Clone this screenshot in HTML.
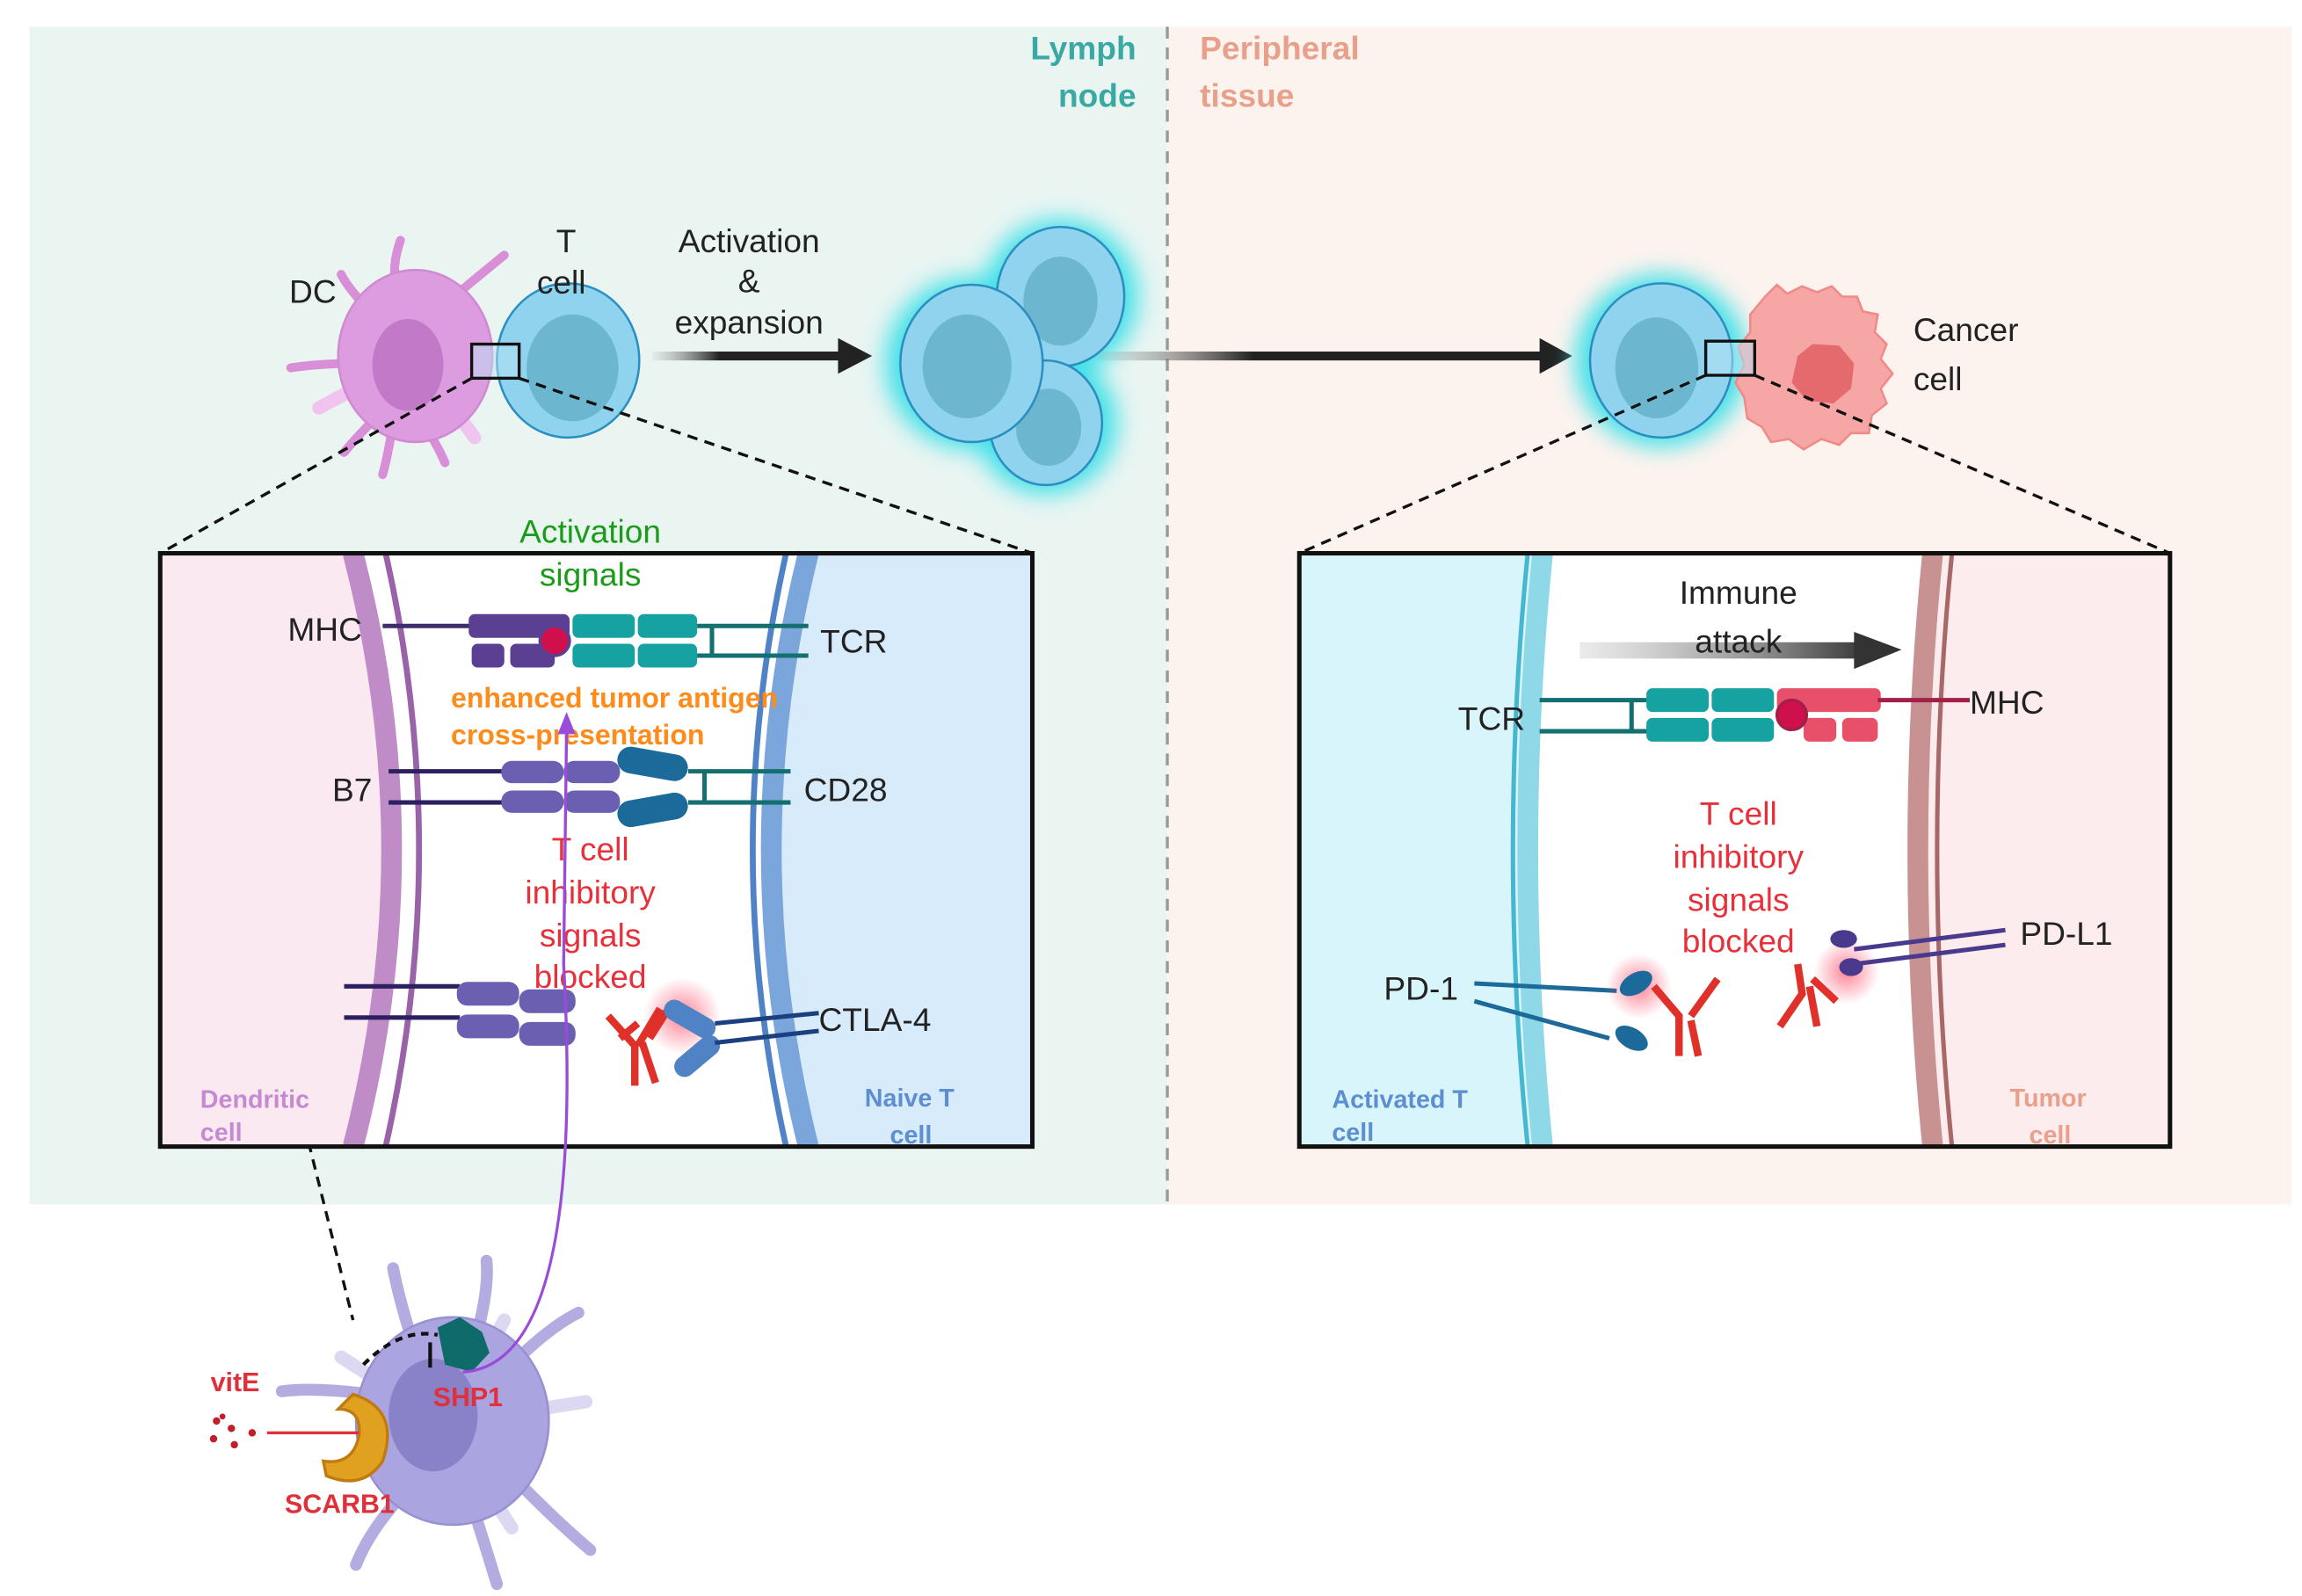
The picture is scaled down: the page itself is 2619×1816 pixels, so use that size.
<!DOCTYPE html>
<html><head><meta charset="utf-8"><style>
html,body{margin:0;padding:0;background:#fff}
svg{display:block}
text{font-family:"Liberation Sans",sans-serif}
</style></head><body>
<svg width="2619" height="1816" viewBox="0 0 1552 1076" preserveAspectRatio="none" xmlns="http://www.w3.org/2000/svg">
<defs>
<filter id="glow" x="-50%" y="-50%" width="200%" height="200%"><feGaussianBlur stdDeviation="8"/></filter>
<linearGradient id="ag" x1="0" x2="1"><stop offset="0" stop-color="#999" stop-opacity="0.1"/><stop offset="0.35" stop-color="#222"/><stop offset="1" stop-color="#222"/></linearGradient>
<linearGradient id="ag2" x1="0" x2="1"><stop offset="0" stop-color="#bbb" stop-opacity="0.3"/><stop offset="1" stop-color="#333"/></linearGradient>
<radialGradient id="rg" cx="0.5" cy="0.5" r="0.5"><stop offset="0" stop-color="#ff3050" stop-opacity="0.6"/><stop offset="1" stop-color="#ff3050" stop-opacity="0"/></radialGradient>
</defs>
<rect x="20" y="18" width="767" height="794" fill="#eaf5f2"/>
<rect x="787" y="18" width="758" height="794" fill="#fdf3ee"/>
<line x1="787" y1="18" x2="787" y2="812" stroke="#999" stroke-width="2" stroke-dasharray="8,6"/>
<text x="766" y="40" font-size="22" font-weight="bold" fill="#3aa9a4" text-anchor="end">Lymph</text>
<text x="766" y="72" font-size="22" font-weight="bold" fill="#3aa9a4" text-anchor="end">node</text>
<text x="809" y="40" font-size="22" font-weight="bold" fill="#e8a08a">Peripheral</text>
<text x="809" y="72" font-size="22" font-weight="bold" fill="#e8a08a">tissue</text>

<!-- DC + T cell -->
<g stroke="#f0c4ee" stroke-width="9" stroke-linecap="round">
<line x1="280" y1="240" x2="300" y2="195"/><line x1="280" y1="240" x2="215" y2="275"/><line x1="280" y1="240" x2="320" y2="295"/>
</g>
<g stroke="#d98fd8" stroke-width="6" stroke-linecap="round" fill="none">
<path d="M270,200 Q262,185 270,162"/><path d="M250,210 Q235,195 230,185"/><path d="M300,205 Q330,180 340,172"/><path d="M240,245 Q215,245 196,248"/><path d="M255,280 Q240,295 232,305"/><path d="M285,285 Q295,300 300,312"/><path d="M265,285 Q262,305 258,320"/>
</g>
<ellipse cx="280" cy="240" rx="52" ry="58" fill="#dd9ce0" stroke="#d08ad2" stroke-width="1.5"/>
<ellipse cx="275" cy="246" rx="24" ry="31" fill="#c27ac8"/>
<ellipse cx="383" cy="243" rx="48" ry="52" fill="#8fd3ef" stroke="#2a8fc0" stroke-width="1.5"/>
<ellipse cx="386" cy="248" rx="31" ry="36" fill="#6cb7cf"/>
<rect x="318" y="232" width="32" height="23" fill="#b7e3f5" fill-opacity="0.5" stroke="#111" stroke-width="2"/>
<text x="195" y="204" font-size="22" fill="#222">DC</text>
<text x="375" y="170" font-size="22" fill="#222">T</text>
<text x="362" y="198" font-size="22" fill="#222">cell</text>
<text x="505" y="170" font-size="22" fill="#222" text-anchor="middle">Activation</text>
<text x="505" y="197" font-size="22" fill="#222" text-anchor="middle">&amp;</text>
<text x="505" y="225" font-size="22" fill="#222" text-anchor="middle">expansion</text>
<rect x="440" y="237" width="128" height="6" fill="url(#ag)"/>
<polygon points="565,228 588,240 565,252" fill="#222"/>

<!-- expanded cells -->
<g filter="url(#glow)" fill="#3fe0e8"><circle cx="655" cy="245" r="58"/><circle cx="715" cy="200" r="52"/><circle cx="705" cy="285" r="48"/></g>
<ellipse cx="715" cy="200" rx="43" ry="47" fill="#8fd3ef" stroke="#2a8fc0" stroke-width="1.5"/><ellipse cx="715" cy="203" rx="25" ry="30" fill="#6cb7cf"/>
<ellipse cx="705" cy="285" rx="38" ry="42" fill="#8fd3ef" stroke="#2a8fc0" stroke-width="1.5"/><ellipse cx="707" cy="288" rx="22" ry="26" fill="#6cb7cf"/>
<ellipse cx="655" cy="245" rx="48" ry="53" fill="#8fd3ef" stroke="#2a8fc0" stroke-width="1.5"/><ellipse cx="652" cy="247" rx="30" ry="35" fill="#6cb7cf"/>
<rect x="740" y="237" width="300" height="6" fill="url(#ag)"/>
<polygon points="1038,228 1060,240 1038,252" fill="#222"/>

<!-- T + cancer -->
<circle cx="1120" cy="243" r="58" fill="#3fe0e8" filter="url(#glow)"/>
<path d="M1190,200 L1198,192 L1205,198 L1215,193 L1225,197 L1235,193 L1242,200 L1252,200 L1256,210 L1266,212 L1264,224 L1272,232 L1268,242 L1276,252 L1268,262 L1272,272 L1262,280 L1260,292 L1248,292 L1240,300 L1228,296 L1216,303 L1206,296 L1194,298 L1188,288 L1178,282 L1176,268 L1170,258 L1176,246 L1172,234 L1180,224 L1180,212Z" fill="#f6a6a4" stroke="#f08a88" stroke-width="1.5"/>
<path d="M1212,240 L1222,232 L1240,233 L1250,245 L1248,262 L1236,272 L1218,270 L1208,258Z" fill="#e46a6e"/>
<ellipse cx="1120" cy="243" rx="48" ry="52" fill="#8fd3ef" stroke="#2a8fc0" stroke-width="1.5"/>
<ellipse cx="1117" cy="248" rx="28" ry="34" fill="#6cb7cf"/>
<rect x="1150" y="230" width="33" height="23" fill="#b7e3f5" fill-opacity="0.5" stroke="#111" stroke-width="2"/>
<text x="1290" y="230" font-size="22" fill="#222">Cancer</text>
<text x="1290" y="263" font-size="22" fill="#222">cell</text>

<!-- dashed zoom lines -->
<g stroke="#111" stroke-width="2" stroke-dasharray="7,5">
<line x1="318" y1="255" x2="108" y2="373"/><line x1="350" y1="255" x2="696" y2="373"/>
<line x1="1150" y1="253" x2="876" y2="373"/><line x1="1183" y1="253" x2="1463" y2="373"/>
<line x1="208" y1="770" x2="238" y2="890"/>
</g>

<!-- LEFT BOX -->
<rect x="108" y="373" width="588" height="400" fill="#fff"/>
<path d="M108,373 L245,373 Q280,573 245,773 L108,773Z" fill="#fbe9f2"/>
<path d="M238,373 Q290,573 238,773" fill="none" stroke="#c08cc8" stroke-width="14"/>
<path d="M260,373 Q305,573 260,773" fill="none" stroke="#9a62a8" stroke-width="4"/>
<path d="M696,373 L545,373 Q495,573 545,773 L696,773Z" fill="#d7ebfb"/>
<path d="M545,373 Q495,573 545,773" fill="none" stroke="#7aa6db" stroke-width="14"/>
<path d="M530,373 Q485,573 530,773" fill="none" stroke="#4f83c6" stroke-width="4"/>
<rect x="108" y="373" width="588" height="400" fill="none" stroke="#111" stroke-width="3"/>
<text x="398" y="366" font-size="22" fill="#1a9c1a" text-anchor="middle">Activation</text>
<text x="398" y="395" font-size="22" fill="#1a9c1a" text-anchor="middle">signals</text>
<text x="194" y="432" font-size="22" fill="#222">MHC</text>
<line x1="258" y1="422" x2="318" y2="422" stroke="#3d2c6e" stroke-width="3"/>
<rect x="316" y="414" width="68" height="16" rx="4" fill="#5a3f93"/>
<rect x="318" y="434" width="22" height="16" rx="4" fill="#5a3f93"/><rect x="344" y="434" width="30" height="16" rx="4" fill="#5a3f93"/>
<circle cx="374" cy="432" r="10" fill="#d0104c" stroke="#5a3f93" stroke-width="2"/>
<rect x="386" y="414" width="42" height="16" rx="4" fill="#17a2a2"/><rect x="430" y="414" width="40" height="16" rx="4" fill="#17a2a2"/>
<rect x="386" y="434" width="42" height="16" rx="4" fill="#17a2a2"/><rect x="430" y="434" width="40" height="16" rx="4" fill="#17a2a2"/>
<path d="M470,422 H545 M470,442 H545 M480,422 V442" stroke="#136f70" stroke-width="3" fill="none"/>
<text x="553" y="440" font-size="22" fill="#222">TCR</text>
<text x="304" y="477" font-size="19" font-weight="bold" fill="#ff8c1a">enhanced tumor antigen</text>
<text x="304" y="502" font-size="19" font-weight="bold" fill="#ff8c1a">cross-presentation</text>
<text x="224" y="540" font-size="22" fill="#222">B7</text>
<path d="M262,520 H340 M262,541 H340" stroke="#2d2060" stroke-width="3"/>
<rect x="338" y="513" width="42" height="15" rx="7" fill="#6a5fb0"/><rect x="380" y="513" width="38" height="15" rx="7" fill="#6a5fb0"/>
<rect x="338" y="533" width="42" height="15" rx="7" fill="#6a5fb0"/><rect x="380" y="533" width="38" height="15" rx="7" fill="#6a5fb0"/>
<rect x="416" y="506" width="48" height="18" rx="9" fill="#1c6a9a" transform="rotate(10 440 515)"/>
<rect x="416" y="537" width="48" height="18" rx="9" fill="#1c6a9a" transform="rotate(-10 440 546)"/>
<path d="M464,520 H533 M464,541 H533 M475,520 V541" stroke="#136f70" stroke-width="3" fill="none"/>
<text x="542" y="540" font-size="22" fill="#222">CD28</text>
<g font-size="22" fill="#e8303a" text-anchor="middle">
<text x="398" y="580">T cell</text><text x="398" y="609">inhibitory</text><text x="398" y="638">signals</text><text x="398" y="666">blocked</text></g>
<path d="M232,665 H310 M232,686 H310" stroke="#2d2060" stroke-width="3"/>
<rect x="308" y="662" width="42" height="16" rx="7" fill="#6a5fb0"/><rect x="350" y="667" width="38" height="16" rx="7" fill="#6a5fb0"/>
<rect x="308" y="684" width="42" height="16" rx="7" fill="#6a5fb0"/><rect x="350" y="689" width="38" height="16" rx="7" fill="#6a5fb0"/>
<circle cx="460" cy="685" r="26" fill="url(#rg)"/>
<path d="M410,685 L428,705 L428,732 M445,680 L430,705 M418,700 L430,690 M433,703 L442,730 M438,700 L452,678" stroke="#e0302a" stroke-width="5" fill="none"/>
<rect x="446" y="680" width="38" height="14" rx="7" fill="#4f83c6" transform="rotate(30 465 687)"/>
<rect x="452" y="705" width="36" height="14" rx="7" fill="#4f83c6" transform="rotate(-40 470 712)"/>
<path d="M482,690 L552,683 M482,703 L552,695" stroke="#1c3f80" stroke-width="3"/>
<text x="552" y="695" font-size="22" fill="#222">CTLA-4</text>
<text x="135" y="747" font-size="17" font-weight="bold" fill="#c58ad0">Dendritic</text>
<text x="135" y="769" font-size="17" font-weight="bold" fill="#c58ad0">cell</text>
<text x="583" y="746" font-size="17" font-weight="bold" fill="#5d8fd0">Naive T</text>
<text x="600" y="771" font-size="17" font-weight="bold" fill="#5d8fd0">cell</text>

<!-- RIGHT BOX -->
<rect x="876" y="373" width="587" height="400" fill="#fff"/>
<path d="M876,373 L1035,373 Q1015,573 1035,773 L876,773Z" fill="#d9f5fc"/>
<path d="M1040,373 Q1020,573 1040,773" fill="none" stroke="#8fd8e8" stroke-width="14"/>
<path d="M1030,373 Q1010,573 1030,773" fill="none" stroke="#45b7d0" stroke-width="3"/>
<path d="M1463,373 L1305,373 Q1285,573 1305,773 L1463,773Z" fill="#fdecee"/>
<path d="M1303,373 Q1283,573 1303,773" fill="none" stroke="#c99292" stroke-width="14"/>
<path d="M1316,373 Q1296,573 1316,773" fill="none" stroke="#a86868" stroke-width="3"/>
<rect x="876" y="373" width="587" height="400" fill="none" stroke="#111" stroke-width="3"/>
<text x="1172" y="407" font-size="22" fill="#222" text-anchor="middle">Immune</text>
<rect x="1065" y="433" width="195" height="11" fill="url(#ag2)"/>
<polygon points="1250,426 1282,438 1250,451" fill="#333"/>
<text x="1172" y="440" font-size="22" fill="#222" text-anchor="middle">attack</text>
<text x="983" y="492" font-size="22" fill="#222">TCR</text>
<path d="M1038,472 H1112 M1038,493 H1112 M1100,472 V493" stroke="#136f70" stroke-width="3" fill="none"/>
<rect x="1110" y="464" width="42" height="16" rx="4" fill="#17a2a2"/><rect x="1154" y="464" width="42" height="16" rx="4" fill="#17a2a2"/>
<rect x="1110" y="484" width="42" height="16" rx="4" fill="#17a2a2"/><rect x="1154" y="484" width="42" height="16" rx="4" fill="#17a2a2"/>
<rect x="1198" y="464" width="70" height="16" rx="4" fill="#e8506a"/>
<rect x="1216" y="484" width="22" height="16" rx="4" fill="#e8506a"/><rect x="1242" y="484" width="24" height="16" rx="4" fill="#e8506a"/>
<circle cx="1208" cy="482" r="10" fill="#d0104c" stroke="#a0204a" stroke-width="2"/>
<line x1="1266" y1="472" x2="1328" y2="472" stroke="#a0204a" stroke-width="3"/>
<text x="1328" y="481" font-size="22" fill="#222">MHC</text>
<g font-size="22" fill="#e8303a" text-anchor="middle">
<text x="1172" y="556">T cell</text><text x="1172" y="585">inhibitory</text><text x="1172" y="614">signals</text><text x="1172" y="642">blocked</text></g>
<text x="933" y="674" font-size="22" fill="#222">PD-1</text>
<path d="M994,663 L1090,668 M994,675 L1085,700" stroke="#1c6a9a" stroke-width="3"/>
<circle cx="1105" cy="665" r="22" fill="url(#rg)"/>
<ellipse cx="1103" cy="663" rx="12" ry="7" fill="#1c6a9a" transform="rotate(-30 1103 663)"/>
<ellipse cx="1100" cy="700" rx="12" ry="7" fill="#1c6a9a" transform="rotate(30 1100 700)"/>
<path d="M1115,665 L1132,685 L1132,712 M1158,660 L1140,685 M1140,688 L1145,712" stroke="#e0302a" stroke-width="5" fill="none"/>
<path d="M1200,692 L1215,670 L1212,650 M1225,692 L1220,665 M1238,675 L1222,660" stroke="#e0302a" stroke-width="5" fill="none"/>
<circle cx="1245" cy="655" r="22" fill="url(#rg)"/>
<ellipse cx="1243" cy="633" rx="9" ry="6" fill="#4a3a8e"/><ellipse cx="1248" cy="652" rx="8" ry="6" fill="#4a3a8e"/>
<path d="M1250,640 L1352,627 M1250,650 L1352,637" stroke="#4a3a8e" stroke-width="3"/>
<text x="1362" y="637" font-size="22" fill="#222">PD-L1</text>
<text x="898" y="747" font-size="17" font-weight="bold" fill="#5d8fd0">Activated T</text>
<text x="898" y="769" font-size="17" font-weight="bold" fill="#5d8fd0">cell</text>
<text x="1355" y="746" font-size="17" font-weight="bold" fill="#e8a08a">Tumor</text>
<text x="1368" y="771" font-size="17" font-weight="bold" fill="#e8a08a">cell</text>

<!-- Bottom DC -->
<g stroke="#dcd8f2" stroke-width="9" stroke-linecap="round">
<line x1="300" y1="960" x2="395" y2="945"/><line x1="300" y1="960" x2="340" y2="890"/><line x1="300" y1="960" x2="345" y2="1030"/><line x1="300" y1="960" x2="230" y2="915"/>
</g>
<g stroke="#b2ace0" stroke-width="8" stroke-linecap="round" fill="none">
<path d="M280,910 Q270,880 265,855"/><path d="M320,905 Q330,870 328,850"/><path d="M345,920 Q370,895 390,885"/><path d="M355,1005 Q380,1030 398,1045"/><path d="M320,1020 Q328,1045 335,1068"/><path d="M265,1015 Q248,1035 240,1055"/><path d="M250,940 Q210,935 190,938"/>
</g>
<ellipse cx="305" cy="958" rx="65" ry="70" fill="#aaa4e0" stroke="#9890d0" stroke-width="1.5"/>
<ellipse cx="292" cy="954" rx="30" ry="38" fill="#8a82c8"/>
<path d="M245,920 Q270,895 295,900" stroke="#111" stroke-width="2.5" fill="none" stroke-dasharray="5,4"/>
<line x1="290" y1="905" x2="290" y2="922" stroke="#111" stroke-width="2.5"/>
<path d="M295,895 L310,888 L325,898 L330,912 L318,925 L300,920Z" fill="#0f6a6a"/>
<path d="M312,925 Q395,920 380,650 L382,490" stroke="#9a4bd8" stroke-width="2" fill="none"/>
<polygon points="376,495 382,480 388,495" fill="#9a4bd8"/>
<path d="M238,940 Q270,950 258,985 Q245,1005 220,995 L218,985 Q238,988 242,968 Q244,950 228,950Z" fill="#e0a020" stroke="#c07a10" stroke-width="2"/>
<line x1="180" y1="966" x2="242" y2="966" stroke="#e0303a" stroke-width="2"/>
<g fill="#c0202a"><circle cx="146" cy="958" r="2.5"/><circle cx="156" cy="963" r="2.5"/><circle cx="170" cy="966" r="2.5"/><circle cx="144" cy="970" r="2.5"/><circle cx="158" cy="974" r="2.5"/><circle cx="150" cy="955" r="2"/></g>
<text x="142" y="938" font-size="18" font-weight="bold" fill="#e0303a">vitE</text>
<text x="292" y="948" font-size="18" font-weight="bold" fill="#e0303a">SHP1</text>
<text x="192" y="1020" font-size="18" font-weight="bold" fill="#e0303a">SCARB1</text>
</svg>
</body></html>
